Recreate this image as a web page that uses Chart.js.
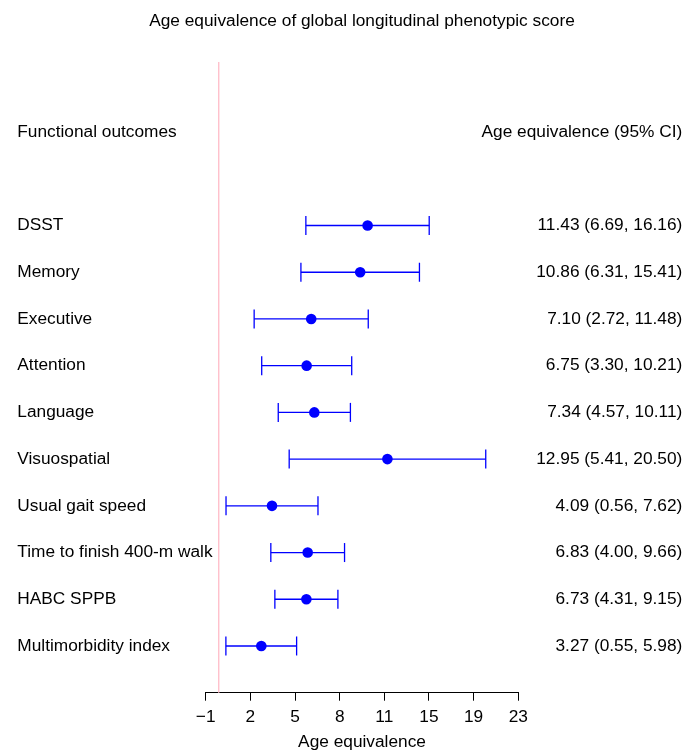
<!DOCTYPE html>
<html><head><meta charset="utf-8">
<script src="https://cdn.jsdelivr.net/npm/chart.js@4"></script>
<style>html,body{margin:0;padding:0;background:#fff}#wrap{width:685px;height:750px;position:relative}</style>
</head><body><div id="wrap"><canvas id="c"></canvas></div>
<script>
const titleText = 'Age equivalence of global longitudinal phenotypic score';
const headerLeft = 'Functional outcomes';
const headerRight = 'Age equivalence (95% CI)';
const xAxisTitle = 'Age equivalence';

const outcomes = ['DSST','Memory','Executive','Attention','Language','Visuospatial',
  'Usual gait speed','Time to finish 400-m walk','HABC SPPB','Multimorbidity index'];
const estimates = [11.43, 10.86, 7.10, 6.75, 7.34, 12.95, 4.09, 6.83, 6.73, 3.27];
const lowerCI   = [6.69, 6.31, 2.72, 3.30, 4.57, 5.41, 0.56, 4.00, 4.31, 0.55];
const upperCI   = [16.16, 15.41, 11.48, 10.21, 10.11, 20.50, 7.62, 9.66, 9.15, 5.98];

const tickValues = [-1, 2.43, 5.86, 9.29, 12.71, 16.14, 19.57, 23];
const tickLabels = ['\u22121','2','5','8','11','15','19','23'];
const referenceValue = 0;

const FONT = "'Liberation Sans', Arial, Helvetica, sans-serif";
const BLUE = '#0000FF';
const FS = 17.3;

const ciSets = outcomes.map((n, i) => ({
  type: 'line',
  label: n + ' CI',
  data: [{x: lowerCI[i], y: i + 1}, {x: upperCI[i], y: i + 1}],
  borderColor: BLUE, borderWidth: 1.3, fill: false,
  pointStyle: 'line', pointRotation: 90, pointRadius: 9.5, pointHoverRadius: 9.5,
  pointBorderColor: BLUE, pointBorderWidth: 1.3,
  order: 1, clip: false
}));
const estSet = {
  type: 'scatter', label: 'Estimate',
  data: estimates.map((v, i) => ({x: v, y: i + 1})),
  pointRadius: 5.3, pointHoverRadius: 5.3, backgroundColor: BLUE, borderColor: BLUE, borderWidth: 0,
  order: 0, clip: false
};

const annot = {
  id: 'annot',
  beforeDatasetsDraw(chart) {
    const {ctx, chartArea: a, scales: {x}} = chart;
    const px = x.getPixelForValue(referenceValue);
    ctx.save();
    ctx.strokeStyle = '#FFC0CB'; ctx.lineWidth = 1.4;
    ctx.beginPath(); ctx.moveTo(px, a.top); ctx.lineTo(px, a.bottom); ctx.stroke();
    ctx.restore();
  },
  afterDraw(chart) {
    const {ctx, chartArea: a, scales: {y}} = chart;
    ctx.save();
    ctx.font = FS + 'px ' + FONT; ctx.fillStyle = '#000'; ctx.textBaseline = 'middle';
    ctx.textAlign = 'center';
    ctx.fillText(titleText, (a.left + a.right) / 2, 21.7);
    ctx.textAlign = 'left';
    ctx.fillText(headerLeft, 17.3, y.getPixelForValue(-1));
    outcomes.forEach((n, i) => ctx.fillText(n, 17.3, y.getPixelForValue(i + 1)));
    ctx.textAlign = 'right';
    ctx.fillText(headerRight, 682.3, y.getPixelForValue(-1));
    outcomes.forEach((n, i) => ctx.fillText(
      estimates[i].toFixed(2) + ' (' + lowerCI[i].toFixed(2) + ', ' + upperCI[i].toFixed(2) + ')',
      682.3, y.getPixelForValue(i + 1)));
    ctx.restore();
  }
};

new Chart(document.getElementById('c'), {
  type: 'scatter',
  data: {datasets: [estSet, ...ciSets]},
  options: {
    responsive: true, maintainAspectRatio: false, animation: false, devicePixelRatio: 1,
    layout: {padding: {left: 205.7, right: 166.7, top: 62, bottom: 0}},
    plugins: {legend: {display: false}, tooltip: {enabled: false}, title: {display: false}},
    events: [],
    scales: {
      x: {
        type: 'linear', min: -1, max: 23,
        afterBuildTicks: s => { s.ticks = tickValues.map(v => ({value: v})); },
        afterFit: s => { s.height = 57.3; },
        ticks: {autoSkip: false, maxRotation: 0, minRotation: 0, padding: 6, color: '#000',
          font: {size: FS, family: FONT}, callback: (v, i) => tickLabels[i]},
        grid: {drawOnChartArea: false, drawTicks: true, tickLength: 8, color: '#000', lineWidth: 1},
        border: {display: true, color: '#000', width: 1},
        title: {display: true, text: xAxisTitle, color: '#000',
          font: {size: FS, family: FONT, lineHeight: 1}, padding: {top: 0, bottom: -1}}
      },
      y: {type: 'linear', min: -2.5, max: 11, reverse: true, display: false}
    }
  },
  plugins: [annot]
});
</script>
</body></html>
